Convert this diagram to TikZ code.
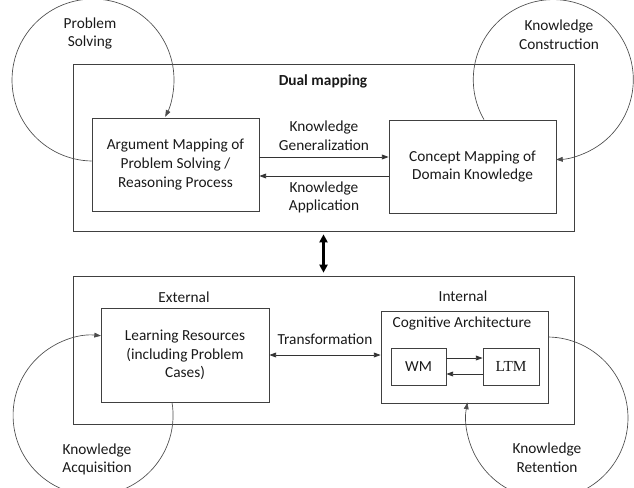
\documentclass[tikz,border=0pt]{standalone}
\usepackage{fontspec}
\setmainfont{Carlito}
\newfontfamily\timesfont{Liberation Serif}
\usetikzlibrary{arrows.meta,calc}
\begin{document}
\fontsize{11.5}{14}\selectfont
\begin{tikzpicture}[x=0.75pt,y=0.75pt,
  every node/.style={align=center,text=black!90},
  frame/.style={draw=black!75,line width=0.6pt,inner sep=0pt},
  link/.style={draw=black!80,line width=0.6pt,-{Triangle[length=5pt,width=3.6pt]}},
  twoway/.style={link,{Triangle[length=5pt,width=3.6pt]}-{Triangle[length=5pt,width=3.6pt]}},
  bigway/.style={line width=1.6pt,{Triangle[length=6pt,width=6pt]}-{Triangle[length=6pt,width=6pt]},shorten <=2.2pt,shorten >=2.2pt},
  cyclearc/.style={draw=black!70,line width=0.5pt,-{Triangle[length=5pt,width=3.6pt]}}]
\useasboundingbox (0,0) rectangle (634,487);
\node[frame,minimum width=375.75pt,minimum height=125.25pt] (dual) at (323.5,339.5) {};
\node[font=\bfseries] (dualtitle) at (323,406) {Dual mapping};
\node[frame,minimum width=125.25pt,minimum height=69.75pt] (arg) at (175.5,322.5)
  {Argument Mapping of\\Problem Solving /\\Reasoning Process};
\node[frame,minimum width=125.25pt,minimum height=69.75pt] (concept) at (472.5,320.5)
  {Concept Mapping of\\Domain Knowledge};
\node (gen) at (324,351.5) {Knowledge\\Generalization};
\node (app) at (324,289.5) {Knowledge\\Application};
\draw[link] ($(arg.east)+(0,7.5)$) -- ($(concept.west)+(0,9.5)$);
\draw[link] ($(concept.west)+(0,-9.5)$) -- ($(arg.east)+(0,-11.5)$);
\node (solving) at (90,453.5) {Problem\\Solving};
\node (construction) at (559,452.5) {Knowledge\\Construction};
\draw[cyclearc] ($(arg.west)+(0,3.5)$) arc[start angle=269,end angle=-27,radius=81];
\draw[cyclearc] ($(concept.north)+(11.5,0)$) arc[start angle=210,end angle=-88,radius=80];
\node[frame,minimum width=375.75pt,minimum height=111pt] (lower) at (323.5,137) {};
\draw[bigway] (dual.south) -- (lower.north);
\node (external) at (184,190) {External};
\node (internal) at (463,191) {Internal};
\node[frame,minimum width=126pt,minimum height=70.5pt] (learn) at (185,132)
  {Learning Resources\\(including Problem\\Cases)};
\node[frame,minimum width=125.25pt,minimum height=69pt] (cog) at (464.5,130) {};
\node (cogtitle) at (462,164) {Cognitive Architecture};
\node[frame,minimum width=41.25pt,minimum height=27.75pt] (wm) at (418.5,120.5) {WM};
\node[frame,minimum width=42pt,minimum height=27.75pt,font=\timesfont] (ltm) at (511,120.5) {LTM};
\draw[link] ($(wm.east)+(0,8.5)$) -- ($(ltm.west)+(0,8.5)$);
\draw[link] ($(ltm.west)+(0,-7.5)$) -- ($(wm.east)+(0,-7.5)$);
\node (transform) at (325,148) {Transformation};
\draw[twoway] (learn.east) -- (learn.east -| cog.west);
\node (acquisition) at (97,27.5) {Knowledge\\Acquisition};
\node (retention) at (547,29.5) {Knowledge\\Retention};
\draw[cyclearc] ($(cog.east)+(0,20)$) arc[start angle=89,end angle=-191,radius=81];
\draw[cyclearc] ($(learn.south)+(-13,0)$) arc[start angle=9.3,end angle=-275.7,radius=80];
\end{tikzpicture}
\end{document}
